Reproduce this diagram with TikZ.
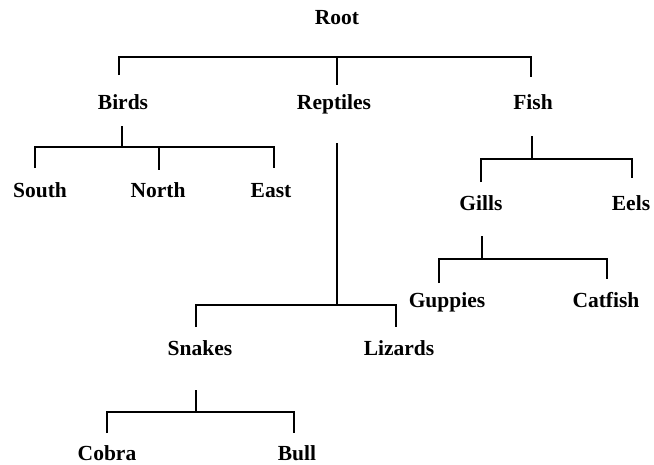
\documentclass[tikz,border=0pt]{standalone}
\usepackage{fontspec}
\setmainfont{Liberation Serif}
\begin{document}
\begin{tikzpicture}[x=1pt,y=-1pt,
  treetext/.style={font=\fontsize{21.5}{25}\selectfont\bfseries, inner sep=0pt, anchor=base},
  link/.style={line width=2.9pt}]
\useasboundingbox (0,0) rectangle (654,464);

% labels of the tree
\node[treetext] (root)     at (337,24)  {Root};
\node[treetext] (birds)    at (123,109) {Birds};
\node[treetext] (reptiles) at (334,109) {Reptiles};
\node[treetext] (fish)     at (533,109) {Fish};
\node[treetext] (south)    at (40,197)  {South};
\node[treetext] (north)    at (158,197) {North};
\node[treetext] (east)     at (271,197) {East};
\node[treetext] (gills)    at (481,210) {Gills};
\node[treetext] (eels)     at (631,210) {Eels};
\node[treetext] (guppies)  at (447,307) {Guppies};
\node[treetext] (catfish)  at (606,307) {Catfish};
\node[treetext] (snakes)   at (200,355) {Snakes};
\node[treetext] (lizards)  at (399,355) {Lizards};
\node[treetext] (cobra)    at (107,460) {Cobra};
\node[treetext] (bull)     at (297,460) {Bull};

% junction points: bar joints, stem starts and drop ends
\coordinate (rootBar)     at (337,57);
\coordinate (birdsTop)    at (119,75);
\coordinate (reptilesTop) at (337,85);
\coordinate (fishTop)     at (531,77);

\coordinate (birdsStem) at (122,126);
\coordinate (birdsBar)  at (122,147);
\coordinate (southTop)  at (35,168);
\coordinate (northTop)  at (159,170);
\coordinate (eastTop)   at (274,168);

\coordinate (reptilesStem) at (337,143);
\coordinate (reptilesBar)  at (337,305);
\coordinate (snakesTop)    at (196,327);
\coordinate (lizardsTop)   at (396,327);

\coordinate (fishStem) at (532,136);
\coordinate (fishBar)  at (532,159);
\coordinate (gillsTop) at (481,182);
\coordinate (eelsTop)  at (632,178);

\coordinate (gillsStem)  at (482,236);
\coordinate (gillsBar)   at (482,259);
\coordinate (guppiesTop) at (439,283);
\coordinate (catfishTop) at (607,279);

\coordinate (snakesStem) at (196,390);
\coordinate (snakesBar)  at (196,412);
\coordinate (cobraTop)   at (107,433);
\coordinate (bullTop)    at (294,433);

% brackets
\draw[link] (birdsTop) |- (rootBar) -| (fishTop);
\draw[link] (rootBar) -- (reptilesTop);

\draw[link] (southTop) |- (birdsBar) -| (eastTop);
\draw[link] (birdsStem) -- (birdsBar);
\draw[link] (northTop |- birdsBar) -- (northTop);

\draw[link] (snakesTop) |- (reptilesBar) -| (lizardsTop);
\draw[link] (reptilesStem) -- (reptilesBar);

\draw[link] (gillsTop) |- (fishBar) -| (eelsTop);
\draw[link] (fishStem) -- (fishBar);

\draw[link] (guppiesTop) |- (gillsBar) -| (catfishTop);
\draw[link] (gillsStem) -- (gillsBar);

\draw[link] (cobraTop) |- (snakesBar) -| (bullTop);
\draw[link] (snakesStem) -- (snakesBar);
\end{tikzpicture}
\end{document}
